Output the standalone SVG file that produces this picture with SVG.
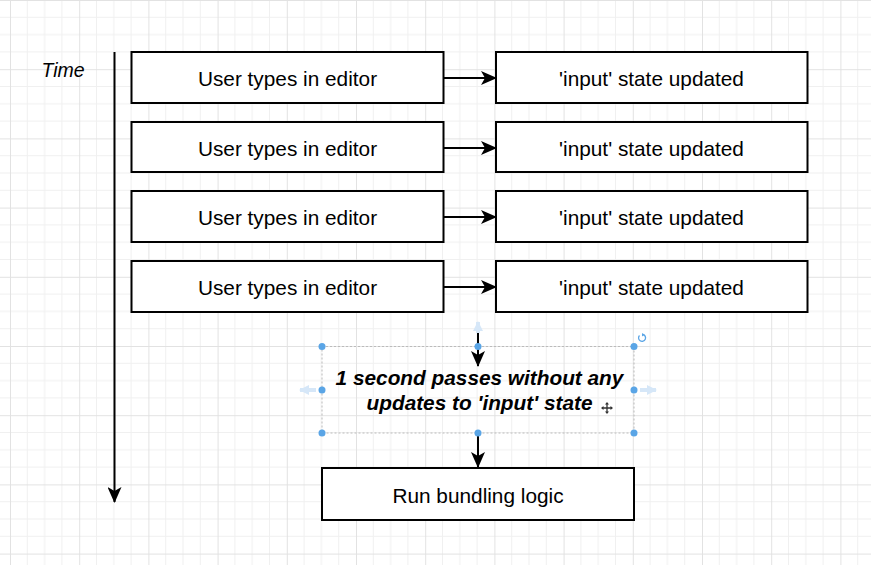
<svg xmlns="http://www.w3.org/2000/svg" width="871" height="565" viewBox="0 0 871 565">
<defs>
<pattern id="grid" patternUnits="userSpaceOnUse" x="10" y="0" width="69.2" height="69.2">
<path d="M17.3 0V69.2M34.6 0V69.2M51.9 0V69.2M0 17.3H69.2M0 34.6H69.2M0 51.9H69.2" stroke="#f0f0f0" stroke-width="1" fill="none"/>
<path d="M0.5 0V69.2M0 0.5H69.2" stroke="#e2e2e2" stroke-width="1" fill="none"/>
</pattern>
<marker id="ah" viewBox="0 0 16 14" refX="15" refY="7" markerWidth="16" markerHeight="14" markerUnits="userSpaceOnUse" orient="auto">
<path d="M0 0L16 7L0 14L4 7Z" fill="#000"/>
</marker>
<marker id="hint" viewBox="0 0 10 10" refX="9" refY="5" markerWidth="10" markerHeight="10" markerUnits="userSpaceOnUse" orient="auto">
<path d="M0 0L10 5L0 10Z" fill="#d6e7f8"/>
</marker>
</defs>
<style>
.box{fill:#fff;stroke:#000;stroke-width:2}
.lbl{font-family:"Liberation Sans",Arial,sans-serif;font-size:20.8px;fill:#000;text-anchor:middle}
.em{font-style:italic;font-weight:bold}
.edge{stroke:#000;stroke-width:2;fill:none;marker-end:url(#ah)}
.h{fill:#5aa5e6}
.hintl{stroke:#d6e7f8;stroke-width:4;fill:none;marker-end:url(#hint)}
</style>
<rect width="871" height="565" fill="#fff"/>
<rect width="871" height="565" fill="url(#grid)"/>

<g id="time">
<text x="63" y="77" class="lbl" style="font-style:italic;font-size:19.5px">Time</text>
</g>

<g id="connectors">
<line x1="114.5" y1="52" x2="114.5" y2="502" class="edge"/>
<line x1="443" y1="78" x2="496" y2="78" class="edge"/>
<line x1="443" y1="148" x2="496" y2="148" class="edge"/>
<line x1="443" y1="217" x2="496" y2="217" class="edge"/>
<line x1="443" y1="287" x2="496" y2="287" class="edge"/>
<line x1="478" y1="332" x2="478" y2="366" class="edge"/>
<line x1="478" y1="433" x2="478" y2="467" class="edge"/>
</g>

<g id="u1"><rect x="131.5" y="52" width="312" height="51" class="box"/><text x="287.5" y="86" class="lbl">User types in editor</text></g>
<g id="s1"><rect x="496" y="52" width="311.5" height="51" class="box"/><text x="651.5" y="86" class="lbl">'input' state updated</text></g>
<g id="u2"><rect x="131.5" y="122" width="312" height="50" class="box"/><text x="287.5" y="155.5" class="lbl">User types in editor</text></g>
<g id="s2"><rect x="496" y="122" width="311.5" height="50" class="box"/><text x="651.5" y="155.5" class="lbl">'input' state updated</text></g>
<g id="u3"><rect x="131.5" y="191" width="312" height="51" class="box"/><text x="287.5" y="225" class="lbl">User types in editor</text></g>
<g id="s3"><rect x="496" y="191" width="311.5" height="51" class="box"/><text x="651.5" y="225" class="lbl">'input' state updated</text></g>
<g id="u4"><rect x="131.5" y="261" width="312" height="51" class="box"/><text x="287.5" y="295" class="lbl">User types in editor</text></g>
<g id="s4"><rect x="496" y="261" width="311.5" height="51" class="box"/><text x="651.5" y="295" class="lbl">'input' state updated</text></g>

<g id="wait">
<rect x="322" y="346.5" width="312" height="86.5" fill="none" stroke="#bbb" stroke-width="1" stroke-dasharray="2 2"/>
<text x="479.5" y="385" class="lbl em">1 second passes without any</text>
<text x="479.5" y="410" class="lbl em">updates to 'input' state</text>
<line x1="478" y1="333" x2="478" y2="322" class="hintl"/>
<line x1="316" y1="390" x2="300" y2="390" class="hintl"/>
<line x1="640" y1="390" x2="656" y2="390" class="hintl"/>
<circle cx="322" cy="346.5" r="3.5" class="h"/>
<circle cx="478" cy="346.5" r="3.5" class="h"/>
<circle cx="634" cy="346.5" r="3.5" class="h"/>
<circle cx="322" cy="390" r="3.5" class="h"/>
<circle cx="634" cy="390" r="3.5" class="h"/>
<circle cx="322" cy="433" r="3.5" class="h"/>
<circle cx="478" cy="433" r="3.5" class="h"/>
<circle cx="634" cy="433" r="3.5" class="h"/>
<path d="M639.5 335.5A3.5 3.5 0 1 0 643 334.5" fill="none" stroke="#5aa5e6" stroke-width="1.3"/>
<path d="M642 333L644.5 334.7L642 336.5Z" fill="#5aa5e6"/>
<path d="M607 403V413M602 408H612" stroke="#333" stroke-width="1.3"/>
<path d="M607 402L605 404.5H609ZM607 414L605 411.5H609ZM601 408L603.5 406V410ZM613 408L610.5 406V410Z" fill="#333"/>
</g>

<g id="run"><rect x="322" y="468" width="312" height="52" class="box"/><text x="478" y="503" class="lbl">Run bundling logic</text></g>
</svg>
